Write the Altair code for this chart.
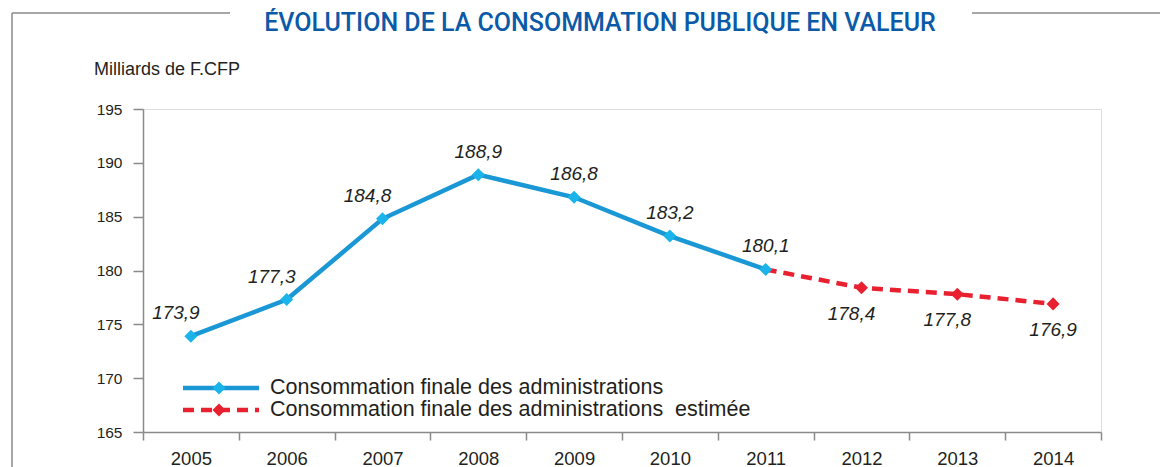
import altair as alt
import pandas as pd

# ---- data ----
years_actual = ["2005", "2006", "2007", "2008", "2009", "2010", "2011"]
values_actual = [173.9, 177.3, 184.8, 188.9, 186.8, 183.2, 180.1]
years_est = ["2011", "2012", "2013", "2014"]
values_est = [180.1, 178.4, 177.8, 176.9]
all_years = ["2005", "2006", "2007", "2008", "2009", "2010", "2011", "2012", "2013", "2014"]
y_ticks = [165, 170, 175, 180, 185, 190, 195]

title_text = "ÉVOLUTION DE LA CONSOMMATION PUBLIQUE EN VALEUR"
unit_text = "Milliards de F.CFP"
legend_labels = ["Consommation finale des administrations",
                 "Consommation finale des administrations\u00a0 estimée"]

BLUE = "#1a97d5"
BLUE_PT = "#1bb4ea"
RED = "#e8202f"
TXT = "#231f20"
GRAY = "#8a8a8a"
FONT = "Liberation Sans, Arial, sans-serif"
TITLE_FONT = "Roboto, Liberation Sans, sans-serif"

def lab(v):
    return f"{v:.1f}".replace(".", ",")

df_a = pd.DataFrame({"year": years_actual, "value": values_actual,
                     "label": [lab(v) for v in values_actual]})
df_e = pd.DataFrame({"year": years_est, "value": values_est,
                     "label": [lab(v) for v in values_est]})

W, H = 958, 323

x_enc = alt.X("year:N", sort=all_years,
              scale=alt.Scale(type="band", domain=all_years, paddingInner=0, paddingOuter=0),
              axis=alt.Axis(title=None, labelAngle=0, tickBand="extent", tickSize=8,
                            labelPadding=9, labelFontSize=18.5, labelFont=FONT, labelColor=TXT,
                            domainColor=GRAY, tickColor=GRAY, domainWidth=1.5, tickWidth=1.5,
                            grid=False))
y_enc = alt.Y("value:Q", scale=alt.Scale(domain=[165, 195], nice=False, zero=False),
              axis=alt.Axis(title=None, values=y_ticks, tickSize=10, labelPadding=11,
                            labelFontSize=15.5, labelFont=FONT, labelColor=TXT,
                            domainColor=GRAY, tickColor=GRAY, domainWidth=1.5, tickWidth=1.5,
                            grid=False))

base_a = alt.Chart(df_a)
base_e = alt.Chart(df_e)

red_line = base_e.mark_line(color=RED, strokeWidth=4.5, strokeDash=[11, 7]).encode(x=x_enc, y=y_enc)
red_pts = base_e.transform_filter(alt.datum.year != "2011").mark_point(
    shape="diamond", filled=True, size=170, color=RED, opacity=1).encode(x=x_enc, y=y_enc)
blue_line = base_a.mark_line(color=BLUE, strokeWidth=4.5).encode(x=x_enc, y=y_enc)
blue_pts = base_a.mark_point(shape="diamond", filled=True, size=170, color=BLUE_PT,
                             opacity=1).encode(x=x_enc, y=y_enc)

lab_style = dict(fontSize=19, fontStyle="italic", font=FONT, color=TXT)
blue_lab_left = base_a.transform_filter(
    alt.FieldOneOfPredicate(field="year", oneOf=["2005", "2006", "2007"])
).mark_text(dx=-15, dy=-23, **lab_style).encode(x=x_enc, y=y_enc, text="label:N")
blue_lab_mid = base_a.transform_filter(
    alt.FieldOneOfPredicate(field="year", oneOf=["2008", "2009", "2010", "2011"])
).mark_text(dx=0, dy=-23, **lab_style).encode(x=x_enc, y=y_enc, text="label:N")
red_lab = base_e.transform_filter(
    alt.FieldOneOfPredicate(field="year", oneOf=["2012", "2013"])
).mark_text(dx=-10, dy=26, **lab_style).encode(x=x_enc, y=y_enc, text="label:N")
red_lab2 = base_e.transform_filter(alt.datum.year == "2014").mark_text(
    dx=0, dy=26, **lab_style).encode(x=x_enc, y=y_enc, text="label:N")

one = pd.DataFrame({"k": [0]})
c1 = alt.Chart(one)

# title & decorations
title = c1.mark_text(text=title_text, fontSize=25, fontWeight=500, font=TITLE_FONT,
                     color="#0b5aa8", align="center", baseline="middle").encode(
    x=alt.value(457), y=alt.value(-86))
rule_l = c1.mark_rule(color=GRAY, strokeWidth=1.5).encode(
    x=alt.value(-131), x2=alt.value(87), y=alt.value(-96))
rule_v = c1.mark_rule(color=GRAY, strokeWidth=1.5).encode(
    x=alt.value(-131), y=alt.value(-96), y2=alt.value(370))
rule_r = c1.mark_rule(color=GRAY, strokeWidth=1.5).encode(
    x=alt.value(829), x2=alt.value(1030), y=alt.value(-96))
unit = c1.mark_text(text=unit_text, fontSize=18, font=FONT, color=TXT, align="left",
                    baseline="middle").encode(x=alt.value(-49), y=alt.value(-39))

# legend
leg_blue_line = c1.mark_rule(color=BLUE, strokeWidth=4.5).encode(
    x=alt.value(40), x2=alt.value(116), y=alt.value(279))
leg_blue_pt = c1.mark_point(shape="diamond", filled=True, size=170, color=BLUE_PT,
                            opacity=1).encode(x=alt.value(76), y=alt.value(279))
leg_red_line = c1.mark_rule(color=RED, strokeWidth=4.5, strokeDash=[11, 7]).encode(
    x=alt.value(40), x2=alt.value(116), y=alt.value(301))
leg_red_pt = c1.mark_point(shape="diamond", filled=True, size=170, color=RED,
                           opacity=1).encode(x=alt.value(76), y=alt.value(301))
leg_t1 = c1.mark_text(text=legend_labels[0], fontSize=21.5, font=FONT, color=TXT, align="left",
                      baseline="middle").encode(x=alt.value(127), y=alt.value(279))
leg_t2 = c1.mark_text(text=legend_labels[1], fontSize=21.5, font=FONT, color=TXT, align="left",
                      baseline="middle").encode(x=alt.value(127), y=alt.value(301))

chart = alt.layer(
    red_line, red_pts, blue_line, blue_pts,
    blue_lab_left, blue_lab_mid, red_lab, red_lab2,
    title, rule_l, rule_v, rule_r, unit,
    leg_blue_line, leg_red_line, leg_blue_pt, leg_red_pt, leg_t1, leg_t2,
).resolve_scale(x="shared", y="shared").properties(
    width=W, height=H,
    autosize=alt.AutoSizeParams(type="none"),
    padding={"left": 135, "top": 101, "right": 59, "bottom": 36},
).configure_view(stroke=None).configure(background="white")

chart.save("out.html", embed_options={"renderer": "svg", "actions": False})
